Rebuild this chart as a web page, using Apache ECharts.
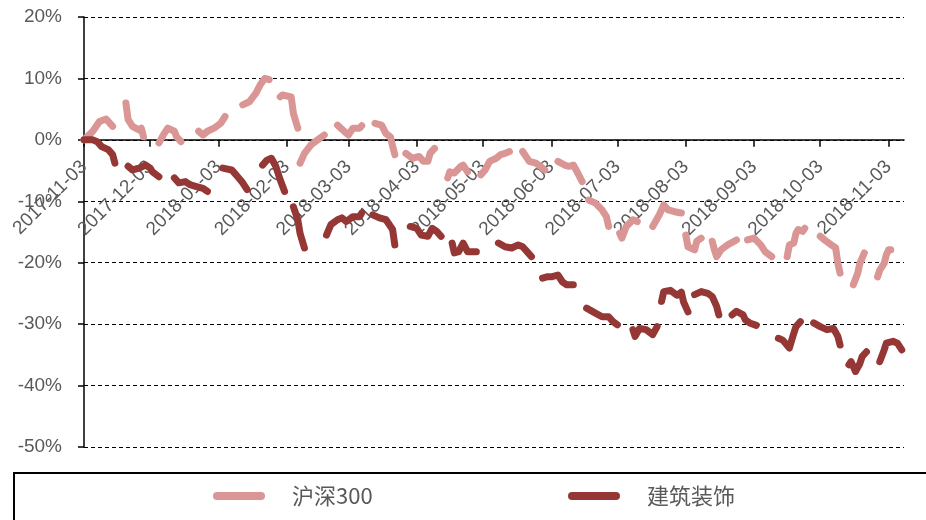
<!DOCTYPE html>
<html>
<head>
<meta charset="utf-8">
<script src="https://cdn.jsdelivr.net/npm/echarts@6/dist/echarts.min.js"></script>
<style>
html,body{margin:0;padding:0;background:#fff;}
#chart{width:926px;height:520px;}
</style>
</head>
<body>
<div id="chart"></div>
<script>
// ---- data (null marks a gap between line segments) ----
const tickLabels = ['2017-11-03','2017-12-03','2018-01-03','2018-02-03','2018-03-03','2018-04-03',
  '2018-05-03','2018-06-03','2018-07-03','2018-08-03','2018-09-03','2018-10-03','2018-11-03'];

const hs300Dates = [
'2017-11-03','2017-11-07','2017-11-10','2017-11-13','2017-11-14','2017-11-16',null,
'2017-11-22','2017-11-23','2017-11-25','2017-11-28','2017-11-29','2017-11-30',null,
'2017-12-07','2017-12-09','2017-12-11','2017-12-14','2017-12-15','2017-12-17',null,
'2017-12-25','2017-12-27','2017-12-29','2018-01-01','2018-01-04','2018-01-06',null,
'2018-01-14','2018-01-17','2018-01-20','2018-01-22','2018-01-24','2018-01-26',null,
'2018-01-31','2018-02-01','2018-02-05','2018-02-06','2018-02-08',null,
'2018-02-09','2018-02-11','2018-02-14','2018-02-17','2018-02-20',null,
'2018-02-26','2018-03-01','2018-03-03','2018-03-05','2018-03-08','2018-03-09',null,
'2018-03-15','2018-03-18','2018-03-20','2018-03-22','2018-03-23','2018-03-24',null,
'2018-03-29','2018-04-01','2018-04-04','2018-04-06','2018-04-08','2018-04-09','2018-04-11',null,
'2018-04-17','2018-04-18','2018-04-20','2018-04-23','2018-04-24','2018-04-26',null,
'2018-05-02','2018-05-04','2018-05-06','2018-05-09','2018-05-11','2018-05-13','2018-05-15',null,
'2018-05-21','2018-05-24','2018-05-27','2018-05-29','2018-05-31',null,
'2018-06-06','2018-06-09','2018-06-11','2018-06-13','2018-06-15','2018-06-17',null,
'2018-06-20','2018-06-23','2018-06-26','2018-06-28','2018-06-29',null,
'2018-07-04','2018-07-05','2018-07-07','2018-07-10','2018-07-12',null,
'2018-07-19','2018-07-22','2018-07-24','2018-07-26','2018-07-29','2018-08-01',null,
'2018-08-03','2018-08-04','2018-08-07','2018-08-08','2018-08-10',null,
'2018-08-15','2018-08-16','2018-08-17','2018-08-19','2018-08-22','2018-08-26',null,
'2018-08-31','2018-09-03','2018-09-06','2018-09-08','2018-09-11',null,
'2018-09-18','2018-09-19','2018-09-21','2018-09-22','2018-09-23','2018-09-25','2018-09-26',null,
'2018-10-03','2018-10-05','2018-10-08','2018-10-10','2018-10-11','2018-10-12',null,
'2018-10-18','2018-10-20','2018-10-21','2018-10-23',null,
'2018-10-29','2018-10-30','2018-11-01','2018-11-02','2018-11-03','2018-11-04'
];
const hs300Values = [
0,1.4,3.0,3.4,3.0,2.2,null,
6.0,3.3,2.2,1.6,1.9,0.5,null,
-0.5,0.8,1.9,1.4,0.5,-0.3,null,
1.4,0.8,1.4,1.9,2.7,3.8,null,
5.7,6.2,7.6,9.0,10.0,9.8,null,
7.0,7.3,7.0,4.3,1.9,null,
-3.8,-2.2,-0.8,0,0.8,null,
2.4,1.4,0.8,1.9,1.9,2.3,null,
2.7,2.4,1.0,0.5,-1.0,-2.4,null,
-2.2,-3.0,-2.7,-3.5,-3.5,-2.2,-1.4,null,
-6.2,-5.2,-5.4,-4.3,-4.1,-5.2,null,
-5.7,-4.9,-3.5,-3.0,-2.4,-2.2,-1.9,null,
-1.9,-3.5,-3.8,-4.3,-4.9,null,
-3.5,-4.1,-4.3,-4.1,-5.4,-6.8,null,
-9.8,-10.3,-11.4,-12.5,-14.1,null,
-15.2,-16.0,-14.1,-13.0,-13.3,null,
-14.1,-12.2,-10.6,-11.4,-11.7,-11.9,null,
-15.5,-17.4,-17.9,-16.5,-16.0,null,
-16.5,-17.9,-19.0,-17.9,-17.1,-16.3,null,
-16.3,-16.0,-17.1,-18.2,-19.0,null,
-19.0,-17.1,-16.8,-15.2,-14.6,-14.9,-14.4,null,
-15.7,-16.3,-17.1,-17.6,-20.1,-21.7,null,
-23.6,-21.7,-20.1,-18.4,null,
-22.3,-21.2,-20.1,-18.7,-17.9,-17.9
];

const jzDates = [
'2017-11-03','2017-11-07','2017-11-09','2017-11-11','2017-11-14','2017-11-16','2017-11-17',null,
'2017-11-23','2017-11-25','2017-11-28','2017-12-01','2017-12-03','2017-12-04','2017-12-07',null,
'2017-12-14','2017-12-16','2017-12-19','2017-12-21','2017-12-24','2017-12-27','2017-12-29',null,
'2018-01-05','2018-01-09','2018-01-11','2018-01-14','2018-01-16',null,
'2018-01-23','2018-01-25','2018-01-27','2018-01-29','2018-01-31','2018-02-02',null,
'2018-02-06','2018-02-08','2018-02-09','2018-02-11',null,
'2018-02-21','2018-02-23','2018-02-26','2018-02-28','2018-03-02','2018-03-05','2018-03-08','2018-03-09',null,
'2018-03-14','2018-03-17','2018-03-20','2018-03-23','2018-03-24',null,
'2018-03-31','2018-04-03','2018-04-05','2018-04-08','2018-04-10','2018-04-12','2018-04-14',null,
'2018-04-19','2018-04-20','2018-04-22','2018-04-24','2018-04-26','2018-04-30',null,
'2018-05-10','2018-05-13','2018-05-16','2018-05-19','2018-05-21','2018-05-23','2018-05-25',null,
'2018-05-30','2018-06-01','2018-06-03','2018-06-06','2018-06-08','2018-06-10','2018-06-13',null,
'2018-06-19','2018-06-23','2018-06-26','2018-06-29','2018-07-01','2018-07-03',null,
'2018-07-10','2018-07-11','2018-07-13','2018-07-16','2018-07-19','2018-07-21',null,
'2018-07-23','2018-07-24','2018-07-27','2018-07-30','2018-08-01','2018-08-02','2018-08-04',null,
'2018-08-07','2018-08-10','2018-08-13','2018-08-15','2018-08-17','2018-08-18',null,
'2018-08-24','2018-08-26','2018-08-29','2018-08-30','2018-09-01','2018-09-04',null,
'2018-09-14','2018-09-16','2018-09-19','2018-09-21','2018-09-22','2018-09-24',null,
'2018-09-30','2018-10-03','2018-10-06','2018-10-09','2018-10-11','2018-10-12',null,
'2018-10-16','2018-10-17','2018-10-19','2018-10-21','2018-10-22','2018-10-24',null,
'2018-10-30','2018-11-01','2018-11-02','2018-11-05','2018-11-07','2018-11-09'
];
const jzValues = [
0,0,-0.3,-1.1,-1.6,-2.4,-3.8,null,
-4.3,-4.9,-4.6,-4.1,-4.6,-5.2,-6.0,null,
-6.2,-7.0,-6.8,-7.3,-7.6,-7.9,-8.4,null,
-4.6,-4.9,-5.7,-7.0,-8.1,null,
-4.1,-3.3,-3.0,-4.3,-6.5,-8.4,null,
-10.9,-13.0,-15.2,-17.6,null,
-15.5,-13.8,-13.0,-12.7,-13.3,-12.5,-12.5,-11.9,null,
-12.2,-12.7,-13.0,-14.6,-17.1,null,
-14.1,-14.4,-15.5,-15.7,-14.4,-14.9,-15.7,null,
-16.8,-18.4,-18.2,-16.8,-18.2,-18.2,null,
-16.8,-17.4,-17.6,-17.1,-17.4,-18.2,-19.0,null,
-22.5,-22.3,-22.3,-22.0,-23.1,-23.6,-23.6,null,
-27.4,-28.2,-28.8,-28.8,-29.6,-30.1,null,
-30.9,-32.0,-30.7,-30.9,-31.7,-30.4,null,
-26.3,-24.7,-24.5,-25.3,-24.8,-26.4,-28.0,null,
-25.2,-24.7,-25.0,-25.5,-27.1,-28.5,null,
-28.5,-27.9,-28.5,-29.3,-29.8,-30.2,null,
-32.3,-32.6,-33.9,-31.5,-30.4,-29.6,null,
-29.8,-30.4,-30.9,-30.7,-32.0,-33.4,null,
-36.6,-36.1,-37.7,-36.4,-35.3,-34.5,null,
-36.1,-34.2,-33.1,-32.8,-33.1,-34.2
];

const axisStart = '2017-11-03';
const axisEnd = '2018-11-10';
const yMin = -50, yMax = 20, yStep = 10;

// ---- build ----
function ts(s){ const p = s.split('-').map(Number); return Date.UTC(p[0], p[1]-1, p[2]); }
function build(dates, vals){
  const out = [];
  let prev = null;
  for (let i = 0; i < dates.length; i++) {
    if (dates[i] === null || vals[i] === null) { out.push([prev, '-']); continue; }
    prev = ts(dates[i]);
    out.push([prev, vals[i]]);
  }
  return out;
}
const tickTs = tickLabels.map(ts);
function fmt(v){
  const d = new Date(v);
  const p = n => (n < 10 ? '0' : '') + n;
  return d.getUTCFullYear() + '-' + p(d.getUTCMonth()+1) + '-' + p(d.getUTCDate());
}
const pill = 'path://M4 0H48A4 4 0 0 1 48 8H4A4 4 0 0 1 4 0Z';
const latin = "'Liberation Sans', Arial, sans-serif";
const cjk = "'Noto Sans CJK SC', sans-serif";

const W = 926, H = 520;
const gridTop = 17, gridBottom = 73;
const plotH = H - gridTop - gridBottom;
// place the date axis on the 0% line
const zeroFromBottom = plotH * (0 - yMin) / (yMax - yMin);

const chart = echarts.init(document.getElementById('chart'), null, {renderer:'canvas', width: W, height: H});
chart.setOption({
  animation: false,
  backgroundColor: '#fff',
  grid: {left: 84, right: 22, top: gridTop, bottom: gridBottom, containLabel: false, outerBoundsMode: 'none'},
  xAxis: {
    type: 'value', position: 'bottom',
    offset: -zeroFromBottom,
    min: ts(axisStart), max: ts(axisEnd),
    axisLine: {onZero: false, lineStyle: {color: '#000', width: 1.5}},
    axisTick: {show: true, customValues: tickTs, length: 7, lineStyle: {color: '#000', width: 1.5}},
    axisLabel: {customValues: tickTs, rotate: 45, margin: 24, color: '#595959',
      fontSize: 19, fontFamily: latin, formatter: fmt, hideOverlap: false},
    splitLine: {show: false}
  },
  yAxis: {
    type: 'value', min: yMin, max: yMax, interval: yStep,
    axisLine: {show: true, lineStyle: {color: '#000', width: 1.5}},
    axisTick: {show: true, length: 6, lineStyle: {color: '#000', width: 1.5}},
    axisLabel: {formatter: '{value}%', margin: 22, color: '#595959', fontSize: 19, fontFamily: latin},
    splitLine: {show: true, lineStyle: {type: [4, 3], color: '#000', width: 1}}
  },
  legend: [
    {data: ['沪深300'], left: 213, top: 485, padding: 0, itemWidth: 52, itemHeight: 8, icon: pill,
     textStyle: {fontSize: 22, color: '#595959', fontFamily: cjk, padding: [0,0,0,22]}},
    {data: ['建筑装饰'], left: 568, top: 485, padding: 0, itemWidth: 52, itemHeight: 8, icon: pill,
     textStyle: {fontSize: 22, color: '#595959', fontFamily: cjk, padding: [0,0,0,22]}}
  ],
  graphic: [
    {type: 'rect', shape: {x: 14, y: 473, width: 940, height: 60},
     style: {fill: 'none', stroke: '#000', lineWidth: 2}, silent: true}
  ],
  series: [
    {name: '沪深300', type: 'line', data: build(hs300Dates, hs300Values),
     showSymbol: false, symbol: 'none', connectNulls: false,
     itemStyle: {color: '#D99694'},
     lineStyle: {width: 7, color: '#D99694', cap: 'round', join: 'round'},
     emphasis: {disabled: true}},
    {name: '建筑装饰', type: 'line', data: build(jzDates, jzValues),
     showSymbol: false, symbol: 'none', connectNulls: false,
     itemStyle: {color: '#953735'},
     lineStyle: {width: 7, color: '#953735', cap: 'round', join: 'round'},
     emphasis: {disabled: true}}
  ]
});
</script>
</body>
</html>
